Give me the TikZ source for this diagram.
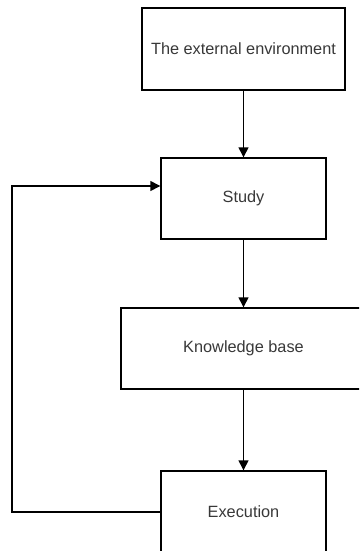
\documentclass[tikz,border=0pt]{standalone}
\usepackage{fontspec}
\setmainfont{Liberation Sans}
\usetikzlibrary{arrows.meta}
\begin{document}
\begin{tikzpicture}[x=1pt,y=-1pt,
  box/.style={draw, line width=1.4pt, inner sep=0pt, text=black!78, font=\fontsize{16.3}{19}\selectfont},
  conn/.style={line width=1.4pt, -{Triangle[length=10pt,width=10pt]}}]
\useasboundingbox (0,0) rectangle (359,551);
\clip (0,0) rectangle (359,551);
\node[box, minimum width=203pt, minimum height=82pt] (env) at (243.5,49) {The external environment};
\node[box, minimum width=165pt, minimum height=81pt] (study) at (243.5,198.5) {Study};
\node[box, minimum width=245pt, minimum height=81pt] (kb) at (243.5,348.5) {Knowledge base};
\node[box, minimum width=165pt, minimum height=82pt] (exec) at (243.5,512) {Execution};
\coordinate (lb) at (12,512);
\coordinate (lt) at (12,186);
\coordinate (sin) at (study.west |- lt);
\draw[conn] (env.south) -- (study.north);
\draw[conn] (study.south) -- (kb.north);
\draw[conn] (kb.south) -- (exec.north);
\draw[conn] (exec.west) -- (lb) -- (lt) -- (sin);
\end{tikzpicture}
\end{document}
